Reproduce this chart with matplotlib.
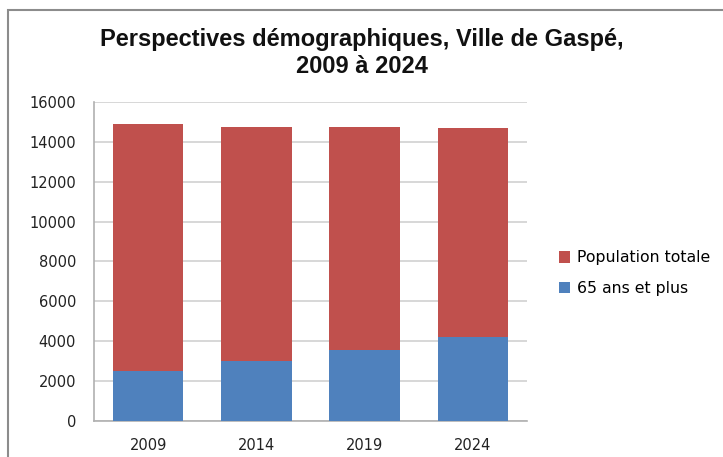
import matplotlib
matplotlib.use("Agg")
import matplotlib.pyplot as plt
import numpy as np
from matplotlib.patches import Rectangle

plt.rcParams['font.family'] = ['DejaVu Sans']

annees = ['2009', '2014', '2019', '2024']
pop_totale = [14900, 14760, 14730, 14670]
pop_65plus = [2520, 3010, 3580, 4230]

fig = plt.figure(figsize=(7.23, 4.57), dpi=100)
ax = fig.add_axes([0.130, 0.079, 0.599, 0.698])

x = np.arange(len(annees))
w = 0.65
ax.bar(x, pop_totale, w, color='#C0504D', label='Population totale', zorder=2)
ax.bar(x, pop_65plus, w, color='#4F81BD', label='65 ans et plus', zorder=3)

ax.set_xlim(-0.5, 3.5)
ax.set_ylim(0, 16000)
ax.set_yticks(np.arange(0, 16001, 2000))
ax.set_xticks(x)
ax.set_xticklabels(annees)
ax.tick_params(length=0, labelsize=10.5, colors='#222222')
ax.tick_params(axis='x', pad=12)
ax.tick_params(axis='y', pad=13)
ax.yaxis.grid(True, color='#d4d4d4', linewidth=1.3, zorder=0)
ax.set_axisbelow(True)
for s in ['top', 'right']:
    ax.spines[s].set_visible(False)
for s in ['left', 'bottom']:
    ax.spines[s].set_color('#b0b0b0')
    ax.spines[s].set_linewidth(1.2)

fig.text(0.5, 0.884, 'Perspectives démographiques, Ville de Gaspé,\n2009 à 2024',
         ha='center', va='center', fontsize=17, fontweight='bold',
         linespacing=1.22, color='#111111', family='Liberation Sans')

handles, labels = ax.get_legend_handles_labels()
fig.legend(handles, labels, loc='center left', bbox_to_anchor=(0.753, 0.402),
           frameon=False, fontsize=11.3, handlelength=0.75, handleheight=0.75,
           handletextpad=0.4, labelspacing=1.0)

fig.patches.append(Rectangle((8 / 723, -0.01), 1.0, 1 - 10 / 457 + 0.01,
                             transform=fig.transFigure, fill=False,
                             edgecolor='#8c8c8c', linewidth=1.5))

fig.savefig('out.png', dpi=100)
